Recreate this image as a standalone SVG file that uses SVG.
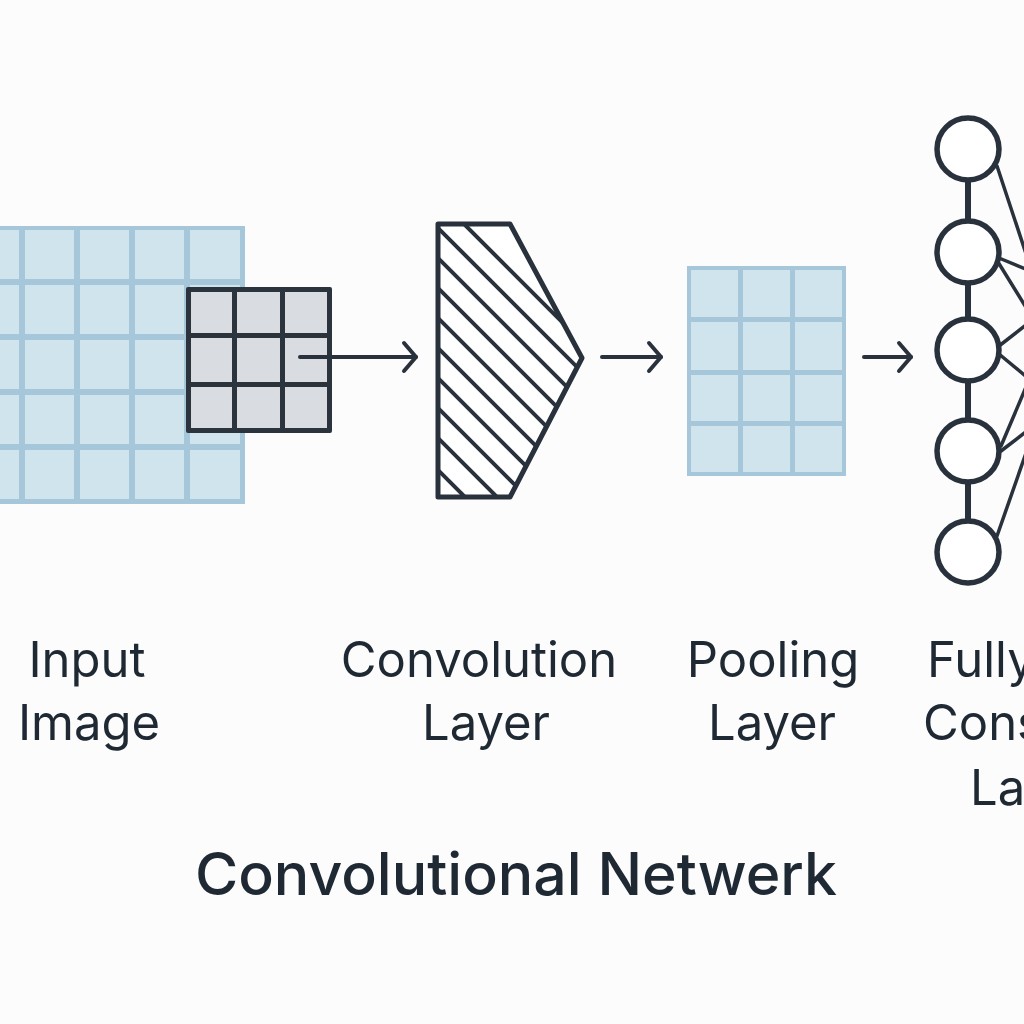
<svg xmlns="http://www.w3.org/2000/svg" width="1024" height="1024" viewBox="0 0 1024 1024">
<style>
.lbl{font-family:Inter,"Noto Sans","Liberation Sans",sans-serif;font-size:49px;fill:#1f2933;text-anchor:middle}
.ttl{font-family:Inter,"Noto Sans","Liberation Sans",sans-serif;font-size:59px;font-weight:500;fill:#1f2933;text-anchor:middle}
.cell{fill:#d0e4ee}
.grid{fill:#a5c7d9}
.kcell{fill:#d9dde2}
.dark{stroke:#29323c;fill:none;stroke-linecap:round;stroke-linejoin:round}
.arrow{stroke:#29323c;stroke-width:4;fill:none;stroke-linecap:round;marker-end:url(#chev)}
.node{fill:#ffffff;stroke:#29323c;stroke-width:5.5}
</style>
<defs>
<marker id="chev" markerUnits="userSpaceOnUse" markerWidth="40" markerHeight="40" viewBox="-20 -20 40 40" refX="0" refY="0" orient="auto" overflow="visible">
<path d="M-12,-14 L0,0 L-12,14" fill="none" stroke="#29323c" stroke-width="4" stroke-linecap="round" stroke-linejoin="round"/>
</marker>
<clipPath id="convClip"><polygon points="438,224 510,224 582,358 510,497 438,497"/></clipPath>
</defs>
<rect width="1024" height="1024" fill="#fcfcfc"/>

<g id="input-image">
<rect class="grid" x="-40" y="226" width="285" height="278"/>
<g>
<rect class="cell" x="-30" y="230" width="49" height="49"/><rect class="cell" x="25" y="230" width="49" height="49"/><rect class="cell" x="80" y="230" width="49" height="49"/><rect class="cell" x="135" y="230" width="49" height="49"/><rect class="cell" x="190" y="230" width="50" height="49"/>
<rect class="cell" x="-30" y="285" width="49" height="49"/><rect class="cell" x="25" y="285" width="49" height="49"/><rect class="cell" x="80" y="285" width="49" height="49"/><rect class="cell" x="135" y="285" width="49" height="49"/><rect class="cell" x="190" y="285" width="50" height="49"/>
<rect class="cell" x="-30" y="340" width="49" height="49"/><rect class="cell" x="25" y="340" width="49" height="49"/><rect class="cell" x="80" y="340" width="49" height="49"/><rect class="cell" x="135" y="340" width="49" height="49"/><rect class="cell" x="190" y="340" width="50" height="49"/>
<rect class="cell" x="-30" y="395" width="49" height="49"/><rect class="cell" x="25" y="395" width="49" height="49"/><rect class="cell" x="80" y="395" width="49" height="49"/><rect class="cell" x="135" y="395" width="49" height="49"/><rect class="cell" x="190" y="395" width="50" height="49"/>
<rect class="cell" x="-30" y="450" width="49" height="49"/><rect class="cell" x="25" y="450" width="49" height="49"/><rect class="cell" x="80" y="450" width="49" height="49"/><rect class="cell" x="135" y="450" width="49" height="49"/><rect class="cell" x="190" y="450" width="50" height="49"/>
</g>
<text class="lbl" x="87" y="677">Input</text>
<text class="lbl" x="89" y="740">Image</text>
</g>

<g id="kernel">
<rect x="186" y="287" width="146" height="146" rx="2" fill="#2b333d"/>
<rect class="kcell" x="191" y="292" width="41" height="41"/><rect class="kcell" x="237" y="292" width="43" height="41"/><rect class="kcell" x="285" y="292" width="42" height="41"/>
<rect class="kcell" x="191" y="338" width="41" height="44"/><rect class="kcell" x="237" y="338" width="43" height="44"/><rect class="kcell" x="285" y="338" width="42" height="44"/>
<rect class="kcell" x="191" y="387" width="41" height="41"/><rect class="kcell" x="237" y="387" width="43" height="41"/><rect class="kcell" x="285" y="387" width="42" height="41"/>
</g>

<g id="convolution-layer">
<polygon points="438,224 510,224 582,358 510,497 438,497" fill="#ffffff"/>
<g clip-path="url(#convClip)" class="dark" stroke-width="4">
<line x1="420" y1="180" x2="620" y2="380"/>
<line x1="420" y1="210" x2="620" y2="410"/>
<line x1="420" y1="240" x2="620" y2="440"/>
<line x1="420" y1="270" x2="620" y2="470"/>
<line x1="420" y1="300" x2="620" y2="500"/>
<line x1="420" y1="330" x2="620" y2="530"/>
<line x1="420" y1="360" x2="620" y2="560"/>
<line x1="420" y1="390" x2="620" y2="590"/>
<line x1="420" y1="420" x2="620" y2="620"/>
<line x1="420" y1="452" x2="620" y2="652"/>
</g>
<polygon class="dark" stroke-width="5" points="438,224 510,224 582,358 510,497 438,497"/>
<text class="lbl" x="479" y="677">Convolution</text>
<text class="lbl" x="486" y="740">Layer</text>
</g>

<g id="pooling-layer">
<rect class="grid" x="687" y="266" width="159" height="210"/>
<rect class="cell" x="691" y="270" width="47" height="47"/><rect class="cell" x="743" y="270" width="47" height="47"/><rect class="cell" x="795" y="270" width="47" height="47"/>
<rect class="cell" x="691" y="322" width="47" height="48"/><rect class="cell" x="743" y="322" width="47" height="48"/><rect class="cell" x="795" y="322" width="47" height="48"/>
<rect class="cell" x="691" y="375" width="47" height="46"/><rect class="cell" x="743" y="375" width="47" height="46"/><rect class="cell" x="795" y="375" width="47" height="46"/>
<rect class="cell" x="691" y="426" width="47" height="46"/><rect class="cell" x="743" y="426" width="47" height="46"/><rect class="cell" x="795" y="426" width="47" height="46"/>
<text class="lbl" x="773" y="677">Pooling</text>
<text class="lbl" x="772" y="740">Layer</text>
</g>

<g id="connectors">
<line class="arrow" x1="300" y1="357" x2="416" y2="357"/>
<line class="arrow" x1="602" y1="357" x2="661" y2="357"/>
<line class="arrow" x1="864" y1="357" x2="911" y2="357"/>
<g stroke="#29323c" stroke-width="6">
<line x1="968" y1="180" x2="968" y2="222"/>
<line x1="968" y1="283" x2="968" y2="320"/>
<line x1="968" y1="381" x2="968" y2="420"/>
<line x1="968" y1="481" x2="968" y2="522"/>
</g>
<g stroke="#29323c" stroke-width="3.5" stroke-linecap="round">
<line x1="997" y1="166" x2="1040" y2="296"/>
<line x1="999" y1="258" x2="1040" y2="275"/>
<line x1="998" y1="262" x2="1040" y2="330"/>
<line x1="999" y1="346" x2="1040" y2="314"/>
<line x1="999" y1="354" x2="1040" y2="388"/>
<line x1="1001" y1="446" x2="1040" y2="354"/>
<line x1="1001" y1="451" x2="1040" y2="421"/>
<line x1="997" y1="536" x2="1040" y2="413"/>
</g>
</g>

<g id="fully-connected-layer">
<circle class="node" cx="968" cy="149" r="31"/>
<circle class="node" cx="968" cy="252" r="31"/>
<circle class="node" cx="968" cy="350" r="31"/>
<circle class="node" cx="968" cy="451" r="31"/>
<circle class="node" cx="968" cy="552" r="31"/>
<text class="lbl" x="927" y="677" style="text-anchor:start">Fully</text>
<text class="lbl" x="923" y="740" style="text-anchor:start">Cons</text>
<text class="lbl" x="970" y="805" style="text-anchor:start">Layer</text>
</g>

<g id="title">
<text class="ttl" x="516" y="895">Convolutional Netwerk</text>
</g>
</svg>
